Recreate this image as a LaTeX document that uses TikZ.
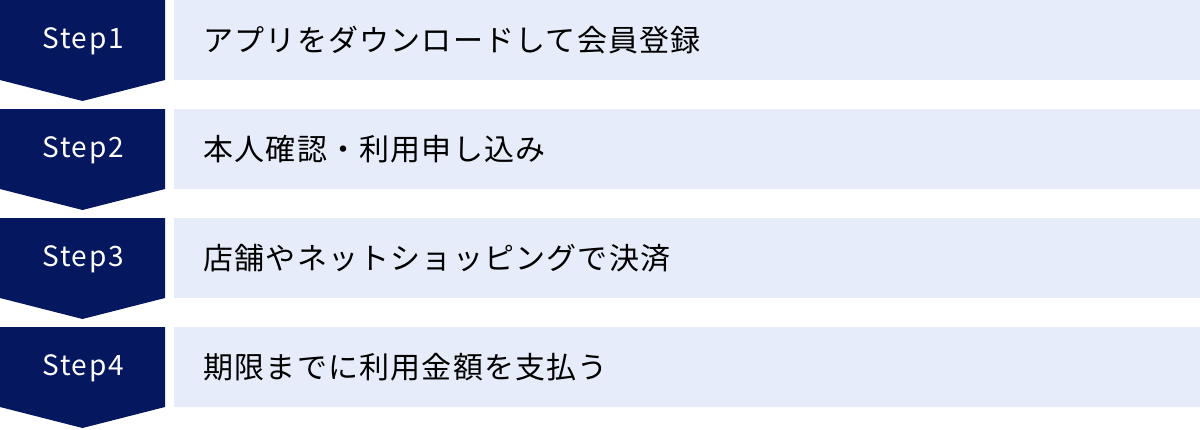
\documentclass[tikz,border=0pt]{standalone}
\usepackage{fontspec}
\setmainfont{Noto Sans CJK JP}
\newfontfamily\jpfont[LetterSpace=4]{Noto Sans CJK JP}
\newfontfamily\stepfont[LetterSpace=6]{Noto Sans CJK JP}
\definecolor{navy}{HTML}{05175F}
\definecolor{lav}{HTML}{E6ECF9}
\begin{document}
\begin{tikzpicture}[x=1pt,y=-1pt,
  stepbar/.style={fill=navy,draw=none},
  descbox/.style={fill=lav,draw=none,minimum width=1026pt,minimum height=80pt,inner sep=0pt,anchor=north west},
  steplabel/.style={text=white,font=\stepfont\fontsize{28}{33}\selectfont,anchor=center},
  desclabel/.style={text=black,font=\jpfont\fontsize{30}{36}\selectfont,anchor=west}]
\useasboundingbox (0,0) rectangle (1200,429);
\foreach \i/\t in {1/{アプリをダウンロードして会員登録},2/{本人確認・利用申し込み},3/{店舗やネットショッピングで決済},4/{期限までに利用金額を支払う}}{
  \pgfmathsetmacro{\top}{(\i-1)*109}
  \fill[stepbar] (0,\top) -- (165,\top) -- (165,\top+80) -- (82.5,\top+101) -- (0,\top+80) -- cycle;
  \node[steplabel] (s\i) at (83,\top+41) {Step\i};
  \node[descbox] (b\i) at (174,\top) {};
  \node[desclabel] (d\i) at (200,\top+40) {\t};
}
\end{tikzpicture}
\end{document}
